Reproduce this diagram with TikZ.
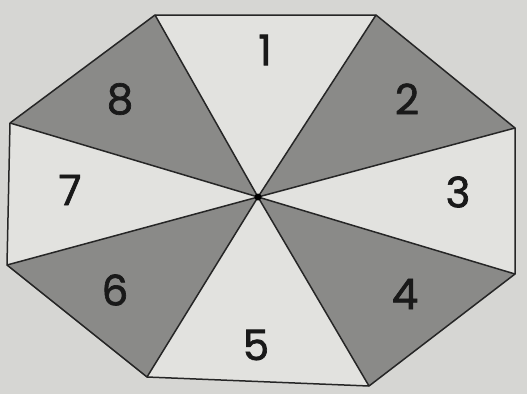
\documentclass[tikz,border=0pt]{standalone}
\usepackage{fontspec}
\setmainfont{Poppins}
\newfontfamily\digitfont[FakeBold=1.6]{Poppins}
\definecolor{bgc}{RGB}{214,214,211}
\definecolor{lightsec}{RGB}{226,226,223}
\definecolor{darksec}{RGB}{138,138,136}
\tikzset{
  lab/.style={font=\digitfont\fontsize{42}{42}\selectfont, text=black!90, inner sep=0pt},
  edge/.style={draw=black!85, line width=1.5pt, line join=round},
}
\begin{document}
\begin{tikzpicture}[x=1pt,y=-1pt]
\fill[bgc] (0,0) rectangle (527,394);
\useasboundingbox (0,0) rectangle (527,394);
\coordinate (c) at (258,197);
\coordinate (v1) at (155,15);
\coordinate (v2) at (376,15);
\coordinate (v3) at (515,128);
\coordinate (v4) at (515,274);
\coordinate (v5) at (369,386);
\coordinate (v6) at (147,377);
\coordinate (v7) at (7,265);
\coordinate (v8) at (10,123);
\fill[lightsec] (c) -- (v1) -- (v2) -- cycle;
\fill[darksec] (c) -- (v2) -- (v3) -- cycle;
\fill[lightsec] (c) -- (v3) -- (v4) -- cycle;
\fill[darksec] (c) -- (v4) -- (v5) -- cycle;
\fill[lightsec] (c) -- (v5) -- (v6) -- cycle;
\fill[darksec] (c) -- (v6) -- (v7) -- cycle;
\fill[lightsec] (c) -- (v7) -- (v8) -- cycle;
\fill[darksec] (c) -- (v8) -- (v1) -- cycle;
\draw[edge] (v1) -- (v2) -- (v3) -- (v4) -- (v5) -- (v6) -- (v7) -- (v8) -- cycle;
\foreach \v in {v1,v2,v3,v4,v5,v6,v7,v8} \draw[edge] (c) -- (\v);
\fill[black] (c) circle (3.5);
\node[lab] (n1) at (265,50) {1};
\node[lab] (n2) at (407,99) {2};
\node[lab] (n3) at (458,192) {3};
\node[lab] (n4) at (405,294) {4};
\node[lab] (n5) at (256,345) {5};
\node[lab] (n6) at (115,290) {6};
\node[lab] (n7) at (70,190) {7};
\node[lab] (n8) at (120,99) {8};
\end{tikzpicture}
\end{document}
